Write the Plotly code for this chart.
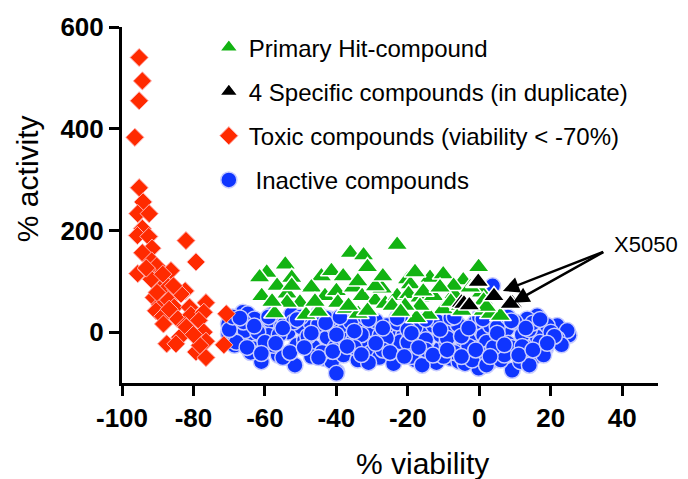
import plotly.graph_objects as go

# Toxic compounds (viability < -70%)
toxic_viability = [-95.2, -94.3, -95.2, -96.4, -95.2, -94.1, -95.6, -92.4, -94.3, -95.7,
                   -92.5, -82.1, -91.6, -94.3, -79.3, -91.7, -90.3, -95.6, -93.0, -86.3,
                   -91.8, -88.6, -89.4, -87.0, -84.9, -82.3, -83.5, -91.1, -89.4, -87.0,
                   -90.5, -85.4, -76.5, -81.1, -88.6, -84.4, -80.7, -77.1, -88.4, -82.3,
                   -78.5, -77.1, -83.8, -76.5, -87.5, -84.9, -79.3, -76.5, -78.2, -71.5,
                   -70.8, -90.2, -93.2, -85.6, -82.0, -86.8, -80.0]
toxic_activity = [540, 494, 455, 383, 284, 256, 233, 233, 204, 190,
                  188, 180, 165, 156, 138, 140, 130, 115, 123, 121,
                  104, 114, 84, 89, 84, 81, 75, 68, 54, 63,
                  42, 49, 58, 49, 31, 26, 34, 39, 16, 13,
                  23, 0, -10, -18, -23, -23, -39, -50, -26, -25,
                  36, 78, 126, 91, 10, 45, -5]

# Primary hit compounds
hit_viability = [-54.3, -59.5, -52.5, -44.2, -41.4, -38.1, -36.1, -32.4, -31.3, -56.6,
                 -53.8, -60.9, -47.0, -43.2, -40.0, -50.2, -53.8, -57.3, -48.5, -39.6,
                 -37.2, -52.5, -23.0, -20.1, -13.8, -10.1, -0.2, -4.5, -19.3, -35.2,
                 -32.8, -29.1, -26.3, -23.0, -19.8, -16.6, -12.8, -10.1, -14.3, -17.6,
                 -33.9, -36.6, -7.1, -5.3, 1.1, 0.6, -16.6, -20.8, -31.3, -15.7,
                 -7.2, -2.5, 1.2, -4.9, 3.1, 5.9, -24.4, -27.2, -29.1, -45.0,
                 -61.5, -58.0, -46.0, -11.0, 2.0, -27.0, -34.0, -18.0, -8.0, -22.0]
hit_activity = [133, 117, 107, 110, 120, 110, 156, 151, 128, 91,
                76, 71, 88, 71, 81, 58, 58, 37, 34, 58,
                46, 91, 172, 104, 107, 114, 128, 102, 94, 88,
                71, 62, 56, 71, 75, 68, 71, 45, 34, 28,
                36, 52, 75, 52, 42, 78, 52, 52, 42, 80,
                91, 88, 62, 42, 36, 32, 52, 86, 90, 40,
                108, 60, 60, 88, 50, 110, 100, 118, 60, 40]

# Four specific compounds, each tested in duplicate
specific_viability = [-0.8, -0.3, -5.0, -4.3, -2.8, 4.1, 9.2, 8.7]
specific_activity = [97, 99, 58, 56, 53, 71, 57, 56]

# Inactive compounds
inactive_viability = [
    -70.2, -66.2, -64.8, -70.2, -68.3, -66.6, -62.9, -60.6, -62.5, -64.8,
    -63.4, -60.1, -61.0, -57.3, -56.3, -58.5, -55.3, -53.5, -51.1, -51.6,
    -48.9, -49.8, -47.0, -46.5, -45.1, -43.2, -42.6, -40.7, -41.7, -40.3,
    -39.0, -39.9, -37.8, -37.3, -68.5, -65.6, -59.0, -54.3, -52.5, -45.1,
    -41.3, -57.6, -34.3, -35.2, -31.9, -30.1, -26.8, -24.4, -21.2, -17.9,
    -14.6, -10.8, -8.0, -5.7, -2.9, 0.4, -0.6, -30.5, -27.7, -24.0,
    -21.2, -17.4, -14.2, -10.9, -8.1, -5.3, -2.0, 0.8, -22.1, -16.1,
    -9.1, -4.3, -25.9, -12.8, -1.6, -0.2, 1.2, 3.1, 3.7, 6.8,
    9.2, 11.1, 13.4, 16.2, 18.5, 21.8, 25.1, 21.3, 19.0, 16.2,
    13.4, 10.5, 7.7, 4.9, 6.8, -0.2, 11.5, 15.2, 3.1, 24.6,
    21.8, 18.1, -36.0, -33.0, -29.0, -26.0, -23.0, -20.0, -18.0, -15.0,
    -12.0, -9.0, -6.0, -3.0, -1.0, 2.0, 5.0, 8.0, 10.0, 12.0,
    14.0, -38.0, -34.0, -28.0, -19.0, -12.0, -7.0, -4.0, 3.0, 6.0,
    9.0, -44.0, -48.0, -52.0, -56.0, -62.0, -66.0, -68.0, -55.0, -47.0,
    -35.0, -31.0, -24.0, -16.0, -10.0, -2.0, 2.0, 7.0, 12.0, 17.0,
    20.0, 23.0, -58.0, -50.0, -43.0, -32.0, -22.0, -8.0, 0.0, 8.0,
    15.0, -15.0, -27.0, -40.0, -45.0, -60.0, -64.0, -20.0, -5.0, 4.0,
    18.0, 14.0, -70.0, -69.0, -40.0,
    -67.0, -63.0, -59.0, -55.0, -51.0, -47.0, -43.0, -39.0, -35.0, -31.0,
    -27.0, -23.0, -19.0, -15.0, -11.0, -7.0, -3.0, 1.0, 5.0, 9.0,
    13.0, 17.0, 21.0,
    -65.0, -61.0, -57.0, -53.0, -49.0, -45.0, -41.0, -37.0, -33.0, -29.0,
    -25.0, -21.0, -17.0, -13.0, -9.0, -5.0, -1.0, 3.0, 7.0, 11.0,
    15.0, 19.0]
inactive_activity = [
    16, 39, 36, -3, -10, 10, 26, 10, -10, -16,
    -32, -32, -58, -13, -45, 23, 13, 0, -26, -65,
    -16, 10, 16, -29, 3, -52, -10, 10, 26, -29,
    -42, -78, 3, -16, -26, 3, -6, 23, 36, 36,
    -58, -26, 13, -16, -16, -39, -29, -45, -32, -55,
    -42, -32, -52, -58, -39, -68, -52, 7, -6, 0,
    -6, -6, 0, -6, 0, -6, -13, 0, -19, -26,
    -23, -23, 13, 13, -32, -49, -6, -58, 91, -36,
    -75, -39, -19, -10, -32, 13, -6, -16, 13, 32,
    26, 13, 7, -13, 26, -71, -58, -49, 13, 3,
    -13, -32, 20, -5, 22, -12, 18, -20, 10, -15,
    22, -12, 15, -28, 20, -20, 10, -22, 20, -5,
    5, -45, -55, -50, -48, -60, -40, -62, -40, -55,
    -30, -40, -8, 20, -5, 0, 20, -20, -50, -48,
    -30, -60, -62, -65, -48, -55, -65, -45, -28, -20,
    0, -25, 35, 30, 28, 30, 30, 28, 30, 30,
    18, -35, -35, -5, 15, -20, -40, 5, -8, -30,
    -45, -65, 5, 30, -81,
    28, 12, 30, 8, 25, -2, 18, 30, 2, 25,
    8, 28, -2, 25, 5, 30, 8, 26, -2, 22,
    8, 25, -8,
    -30, -42, -22, -40, -30, -50, -38, -28, -44, -22,
    -40, -48, -30, -45, -35, -48, -35, -48, -25, -45,
    -35, -22]

font_family = "Arial, Liberation Sans, sans-serif"

fig = go.Figure()

fig.add_trace(go.Scatter(
    x=inactive_viability, y=inactive_activity, mode="markers",
    name="\u00a0Inactive compounds", legendrank=4, legendgroup="inactive",
    marker=dict(symbol="circle", size=16, color="#0f35ff",
                line=dict(color="#c8ccff", width=1.5)),
))
fig.add_trace(go.Scatter(
    x=toxic_viability, y=toxic_activity, mode="markers",
    name="Toxic compounds (viability < -70%)", legendrank=3, legendgroup="toxic",
    marker=dict(symbol="diamond", size=14, color="#ff2a00",
                line=dict(color="#ffb4b4", width=1)),
))
fig.add_trace(go.Scatter(
    x=hit_viability, y=hit_activity, mode="markers",
    name="Primary Hit-compound", legendrank=1, legendgroup="hit",
    marker=dict(symbol="triangle-up", size=19, color="#12b312",
                line=dict(color="white", width=1.5)),
))
fig.add_trace(go.Scatter(
    x=specific_viability, y=specific_activity, mode="markers",
    name="4 Specific compounds (in duplicate)", legendrank=2, legendgroup="specific",
    marker=dict(symbol="triangle-up", size=19, color="black",
                line=dict(color="white", width=1.5)),
))

# Label and arrows for compound X5050
fig.add_annotation(x=37.0, y=172, xref="x", yref="y", text="X5050",
                   showarrow=False, xanchor="left", yanchor="middle",
                   font=dict(family=font_family, size=22, color="black"))
for tip_x, tip_y in [(6.6, 81), (9.4, 58)]:
    fig.add_annotation(x=tip_x, y=tip_y, ax=35.1, ay=159, xref="x", yref="y",
                       axref="x", ayref="y", text="", showarrow=True,
                       arrowhead=2, arrowsize=1.3, arrowwidth=2.5, arrowcolor="black")

# Axis titles
fig.add_annotation(x=0.561, y=-0.175, xref="paper", yref="paper", text="% viability",
                   showarrow=False, xanchor="center", yanchor="top",
                   font=dict(family=font_family, size=30, color="black"))
fig.add_annotation(x=-0.177, y=0.573, xref="paper", yref="paper", text="% activity",
                   showarrow=False, textangle=-90, xanchor="center", yanchor="middle",
                   font=dict(family=font_family, size=30, color="black"))

axis_common = dict(showline=True, linewidth=3, linecolor="black", ticks="outside",
                   ticklen=10, tickwidth=3, tickcolor="black", showgrid=False,
                   zeroline=False,
                   tickfont=dict(family=font_family, size=26, color="black", weight="bold"))

x_ticks = [-100, -80, -60, -40, -20, 0, 20, 40]
y_ticks = [0, 200, 400, 600]

fig.update_xaxes(range=[-100, 50], tickvals=x_ticks, ticktext=[str(v) for v in x_ticks],
                 **axis_common)
fig.update_yaxes(range=[-100, 600], tickvals=y_ticks, ticktext=[str(v) for v in y_ticks],
                 **axis_common)

fig.update_layout(
    width=688, height=479,
    margin=dict(l=122, r=30, t=23, b=96),
    plot_bgcolor="white", paper_bgcolor="white",
    font=dict(family=font_family, color="black"),
    showlegend=True,
    legend=dict(x=0.162, y=1.005, xanchor="left", yanchor="top",
                font=dict(family=font_family, size=24, color="black"),
                bgcolor="rgba(0,0,0,0)", tracegroupgap=10,
                itemsizing="trace"),
)

fig.write_html("out.html", config={"displayModeBar": False})
